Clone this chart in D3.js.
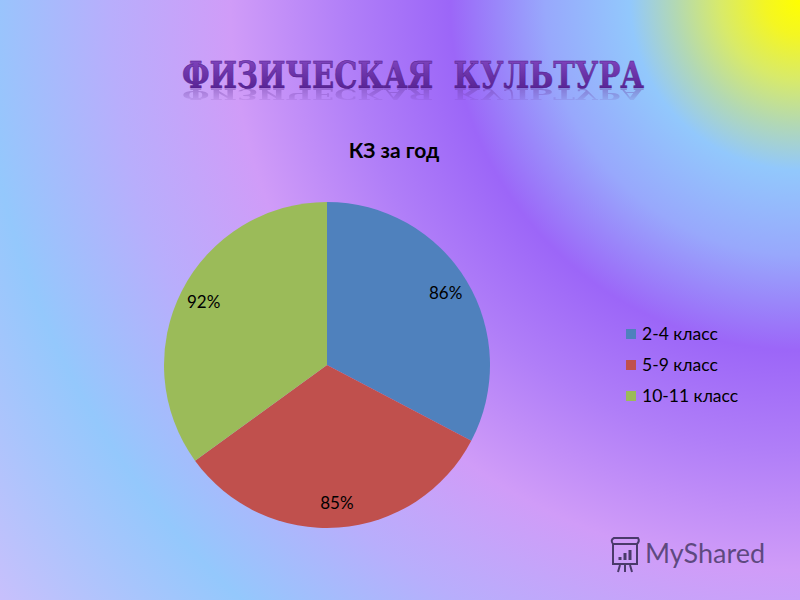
<!DOCTYPE html>
<html><head><meta charset="utf-8">
<script src="https://cdn.jsdelivr.net/npm/d3@7/dist/d3.min.js"></script>
<style>html,body{margin:0;padding:0;overflow:hidden;}svg{display:block;}</style>
</head><body>
<script>
const categories = ["2-4 класс", "5-9 класс", "10-11 класс"];
const values = [86, 85, 92];
const valueLabels = ["86%", "85%", "92%"];
const colors = ["#4f81bd", "#c0504d", "#9bbb59"];
const chartTitle = "КЗ за год";
const slideTitle = "ФИЗИЧЕСКАЯ  КУЛЬТУРА";

const W = 800, H = 600;
const svg = d3.select("body").append("svg").attr("width", W).attr("height", H);
const defs = svg.append("defs");

// background: radial gradient centred on the top-right corner
const bgStops = [
  [0, "#ffff00"], [35, "#f4f622"], [80, "#d8ea6a"], [125, "#b2d8b4"], [170, "#92c8fc"],
  [255, "#98a8fc"], [350, "#9c66f8"], [450, "#b07ef8"], [570, "#d09cf8"],
  [690, "#b8aefc"], [820, "#94c8fc"], [1000, "#c8c0fc"]
];
const bgGrad = defs.append("radialGradient").attr("id","bgg").attr("gradientUnits","userSpaceOnUse")
  .attr("cx",800).attr("cy",0).attr("r",1000);
bgGrad.selectAll("stop").data(bgStops).join("stop")
  .attr("offset",d=>d[0]/1000).attr("stop-color",d=>d[1]);
svg.append("rect").attr("width",W).attr("height",H).attr("fill","url(#bgg)");

// slide title
const tg = defs.append("linearGradient").attr("id","tg").attr("x1",0).attr("y1",0).attr("x2",0).attr("y2",1);
tg.append("stop").attr("offset","0%").attr("stop-color","#8a4cc8");
tg.append("stop").attr("offset","100%").attr("stop-color","#4c1a88");
const tx = 182, tw = 462, tb = 88, tfs = 38;
const tfont = "'DejaVu Serif', 'Liberation Serif', serif";

// reflection drawn as an image (decorative, not text)
(function(){
  const c = document.createElement("canvas");
  c.width = tw + 20; c.height = 40;
  const ctx = c.getContext("2d");
  ctx.font = `bold ${tfs}px ${tfont}`;
  const mw = ctx.measureText(slideTitle).width;
  ctx.save();
  ctx.scale(tw / mw, -0.4);
  ctx.fillStyle = "#6a3aa0";
  ctx.fillText(slideTitle, 0, 0);
  ctx.restore();
  const g = ctx.createLinearGradient(0,0,0,c.height);
  g.addColorStop(0,"rgba(0,0,0,0.4)"); g.addColorStop(0.4,"rgba(0,0,0,0)");
  ctx.globalCompositeOperation = "destination-in";
  ctx.fillStyle = g; ctx.fillRect(0,0,c.width,c.height);
  svg.append("image").attr("x",tx).attr("y",tb+1).attr("width",c.width).attr("height",c.height)
    .attr("href", c.toDataURL());
})();

svg.append("text").attr("x",tx).attr("y",tb).attr("textLength",tw).attr("lengthAdjust","spacingAndGlyphs")
  .style("font-family",tfont).style("font-weight","bold").attr("font-size",tfs)
  .attr("fill","url(#tg)").attr("stroke","#4c1a88").attr("stroke-width",0.5)
  .style("white-space","pre").text(slideTitle);

// chart title
svg.append("text").attr("x",394).attr("y",158).attr("text-anchor","middle")
  .style("font-family","Lato, 'Open Sans', sans-serif").attr("font-weight","bold").attr("font-size",21)
  .attr("fill","#000").text(chartTitle);

// pie
const cx = 327, cy = 365, R = 163;
const pie = d3.pie().sort(null).value(d=>d)(values);
const arc = d3.arc().innerRadius(0).outerRadius(R);
const labelArc = d3.arc().innerRadius(R*0.85).outerRadius(R*0.85);
const pg = svg.append("g").attr("transform",`translate(${cx},${cy})`);
pg.selectAll("path").data(pie).join("path").attr("d",arc).attr("fill",(d,i)=>colors[i]);
pg.selectAll("text").data(pie).join("text")
  .attr("transform",d=>`translate(${labelArc.centroid(d)})`)
  .attr("text-anchor","middle").attr("dy","0.35em")
  .style("font-family","Lato, 'Open Sans', sans-serif").attr("font-size",17).attr("fill","#000")
  .text((d,i)=>valueLabels[i]);

// legend
const y = d3.scalePoint().domain(categories).range([334, 396]);
const lg = svg.append("g");
categories.forEach((c,i)=>{
  lg.append("rect").attr("x",626).attr("y",y(c)-5).attr("width",10).attr("height",10).attr("fill",colors[i]);
  lg.append("text").attr("x",642).attr("y",y(c)).attr("dy","0.35em")
    .style("font-family","Lato, 'Open Sans', sans-serif").attr("font-size",17.5).attr("fill","#000").text(c);
});

// watermark
const wm = svg.append("g").attr("transform","translate(610,538)").attr("stroke","#4a3a6a").attr("fill","none").attr("stroke-width",2);
wm.append("rect").attr("x",3).attr("y",6).attr("width",24).attr("height",20);
wm.append("path").attr("d","M3,6 Q0,2 4,0 L28,0 Q30,3 27,6");
wm.append("path").attr("d","M10,27 L8,34 M15,27 L15,34 M20,27 L22,34");
wm.append("path").attr("d","M10,22 L10,19 M15,22 L15,15 M20,22 L20,12").attr("stroke-width",3);
svg.append("text").attr("x",645).attr("y",563).style("font-family","Lato, 'Open Sans', sans-serif")
  .attr("font-size",27).attr("fill","#4a3a6a").attr("fill-opacity",0.85).text("MyShared");
</script>
</body></html>
